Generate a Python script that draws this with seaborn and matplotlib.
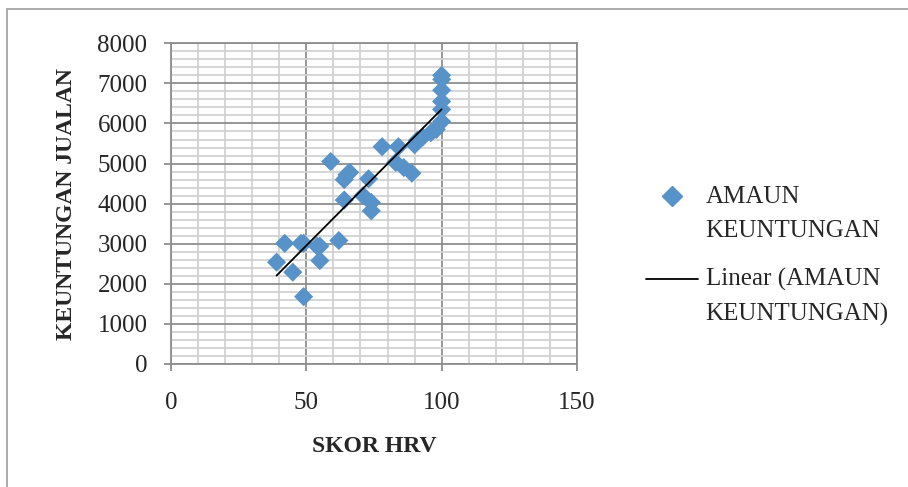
import numpy as np
import pandas as pd
import seaborn as sns
import matplotlib.pyplot as plt
from matplotlib.ticker import MultipleLocator
from matplotlib.lines import Line2D
from matplotlib.patches import Rectangle
from matplotlib.legend_handler import HandlerLine2D

# skor HRV vs keuntungan
skor_hrv = [39, 42, 45, 48, 49, 49, 54, 55, 55, 62,
            59, 64, 65, 66, 73, 64, 71, 74, 74,
            78, 84, 83, 86, 89,
            90, 91, 93, 96, 98, 100, 100, 100, 100, 100, 100]
keuntungan = [2540, 3010, 2290, 3010, 1680, 3010, 2940, 2580, 2940, 3080,
              5050, 4600, 4720, 4780, 4620, 4090, 4200, 4030, 3820,
              5420, 5420, 5030, 4900, 4760,
              5470, 5580, 5660, 5770, 5850, 6050, 6350, 6550, 6830, 7100, 7200]

df = pd.DataFrame({"SKOR HRV": skor_hrv, "AMAUN KEUNTUNGAN": keuntungan})


# legend handle sits on the first line of a two-line label (like Excel)
class RaisedHandler(HandlerLine2D):
    def __init__(self, dy, **kw):
        super().__init__(**kw)
        self.dy = dy

    def create_artists(self, legend, orig_handle, xdescent, ydescent, width, height,
                       fontsize, trans):
        arts = super().create_artists(legend, orig_handle, xdescent, ydescent, width,
                                      height, fontsize, trans)
        for a in arts:
            a.set_ydata(np.asarray(a.get_ydata(), dtype=float) + self.dy)
        return arts


sns.set_style("white")
plt.rcParams['font.family'] = ['Liberation Serif', 'DejaVu Serif']

fig = plt.figure(figsize=(9.08, 4.87), dpi=100)
ax = fig.add_axes([171 / 908, 1 - 364 / 487, 406 / 908, 320.7 / 487])

blue = '#5792C9'
sns.scatterplot(data=df, x="SKOR HRV", y="AMAUN KEUNTUNGAN", marker='D', s=95,
                color=blue, edgecolor='none', ax=ax, zorder=3, legend=False)
sns.regplot(data=df, x="SKOR HRV", y="AMAUN KEUNTUNGAN", scatter=False, ci=None,
            color='black', line_kws={'lw': 1.3, 'zorder': 4}, ax=ax)

ax.set_xlim(0, 150)
ax.set_ylim(0, 8000)
ax.xaxis.set_major_locator(MultipleLocator(50))
ax.xaxis.set_minor_locator(MultipleLocator(10))
ax.yaxis.set_major_locator(MultipleLocator(1000))
ax.yaxis.set_minor_locator(MultipleLocator(200))
ax.grid(which='minor', color='#d2d2d2', lw=1.3, zorder=0)
ax.grid(which='major', color='#8e8e8e', lw=1.3, zorder=1)
ax.set_axisbelow(True)
for sp in ax.spines.values():
    sp.set_color('#8e8e8e')
    sp.set_linewidth(1.3)
ax.tick_params(which='major', direction='out', length=5, width=1.3, color='#8e8e8e',
               labelsize=18, pad=12, bottom=True, left=True)
ax.tick_params(axis='x', which='major', pad=15)
ax.tick_params(which='minor', length=0)

ax.set_xlabel("SKOR HRV", fontsize=17, fontweight='bold', labelpad=16)
ax.set_ylabel("KEUNTUNGAN JUALAN", fontsize=17, fontweight='bold', labelpad=15)

handles = [Line2D([], [], marker='D', color=blue, ls='none', markersize=10),
           Line2D([], [], color='black', lw=1.3)]
labels = ["AMAUN\nKEUNTUNGAN", "Linear (AMAUN\nKEUNTUNGAN)"]
leg = fig.legend(handles, labels, loc='center left', bbox_to_anchor=(623 / 908, 1 - 256 / 487),
                 frameon=False, fontsize=18, handlelength=2.1, handletextpad=0.3,
                 labelspacing=1.04,
                 handler_map={h: RaisedHandler(12.6) for h in handles})
for t in leg.get_texts():
    t.set_linespacing(1.67)

fig.patches.append(Rectangle((7 / 908, -0.1), 1.1, 1 - 9 / 487 + 0.1,
                             transform=fig.transFigure, fill=False,
                             edgecolor='#a6a6a6', lw=1.3))

fig.savefig("out.png", dpi=100)
